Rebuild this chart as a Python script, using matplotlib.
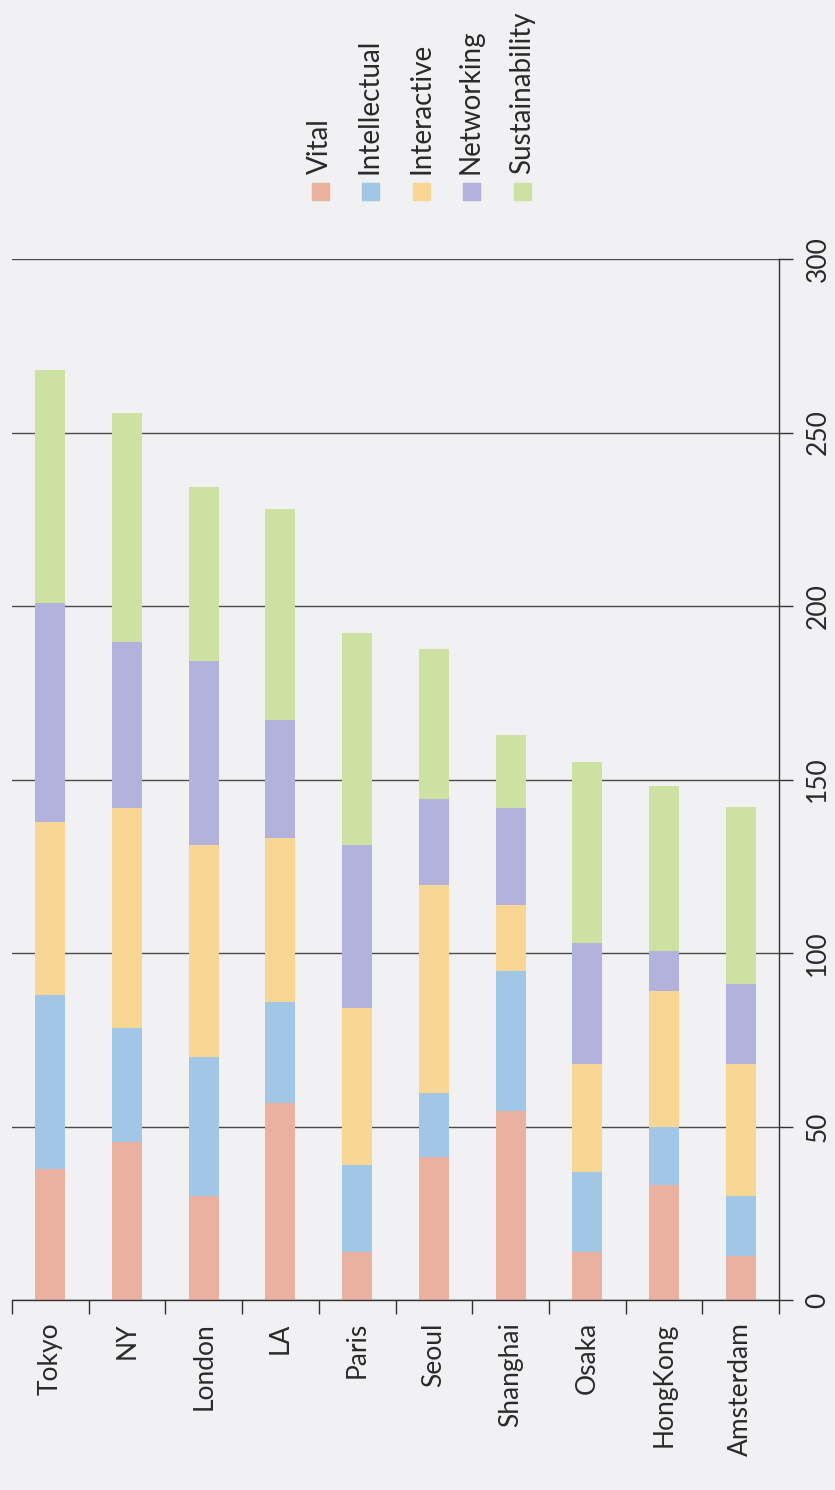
import matplotlib
matplotlib.use("Agg")
import matplotlib.pyplot as plt
from matplotlib.patches import Rectangle
import numpy as np

plt.rcParams['font.family'] = ['Lato', 'DejaVu Sans']

cities = ['Tokyo', 'NY', 'London', 'LA', 'Paris', 'Seoul', 'Shanghai', 'Osaka', 'HongKong', 'Amsterdam']
series = ['Vital', 'Intellectual', 'Interactive', 'Networking', 'Sustainability']
vital          = [37.7, 45.4, 30.1, 56.7, 13.8, 41.3, 54.6, 13.8, 33.1, 12.6]
intellectual   = [50.2, 33.1, 40.0, 29.1, 25.1, 18.4, 40.1, 23.2, 16.8, 17.5]
interactive    = [49.9, 63.2, 61.1, 47.3, 45.2, 59.9, 19.0, 31.1, 39.2, 38.0]
networking     = [63.1, 48.0, 53.0, 34.0, 47.1, 24.9, 28.0, 34.7, 11.6, 23.0]
sustainability = [67.1, 66.0, 50.0, 60.9, 60.9, 43.2, 21.2, 52.2, 47.5, 51.1]
colors = ['#eab0a0', '#a2c6e6', '#f7d793', '#b2b2dc', '#cde2a2']

bg = '#f1f1f3'
txt = '#2a2a2a'
W, H = 835, 1490
fig = plt.figure(figsize=(W / 100, H / 100), dpi=100, facecolor=bg)

# axes box in pixel coords of the page
left, right, bottom, top = 12, 779, 1300, 259
ax = fig.add_axes([left / W, (H - bottom) / H, (right - left) / W, (bottom - top) / H])
ax.set_facecolor(bg)

x = np.arange(len(cities))
base = np.zeros(len(cities))
for vals, c in zip([vital, intellectual, interactive, networking, sustainability], colors):
    ax.bar(x, vals, 0.39, bottom=base, color=c, zorder=3)
    base += np.array(vals)

ax.set_xlim(-0.5, 9.5)
ax.set_ylim(0, 300)
ax.set_yticks(range(0, 301, 50))
ax.yaxis.tick_right()
ax.yaxis.grid(True, color='#4a4a4a', linewidth=1.0, zorder=0)
ax.tick_params(axis='y', direction='out', length=10, width=1.0, color='#333333',
               labelsize=19, labelcolor=txt, pad=9, labelrotation=90)
for lab in ax.get_yticklabels():
    lab.set_va('center')
    lab.set_ha('left')

ax.set_xticks(x)
ax.set_xticklabels(cities, rotation=90, fontsize=19, color=txt)
ax.tick_params(axis='x', which='major', length=0, pad=16)
ax.set_xticks(np.arange(-0.5, 10, 1), minor=True)
ax.tick_params(axis='x', which='minor', direction='out', length=10, width=1.0, color='#333333')

for s in ['left', 'top']:
    ax.spines[s].set_visible(False)
for s in ['right', 'bottom']:
    ax.spines[s].set_color('#333333')
    ax.spines[s].set_linewidth(1.0)
    ax.spines[s].set_zorder(4)

# legend, drawn rotated like the page
leg_x = [320, 370, 421, 471, 522]
for name, c, px in zip(series, colors, leg_x):
    fig.add_artist(Rectangle(((px - 8.5) / W, (H - 200) / H), 17 / W, 17 / H,
                             transform=fig.transFigure, color=c))
    fig.text(px / W, (H - 174) / H, name, rotation=90, rotation_mode='anchor',
             ha='left', va='center', fontsize=20, color=txt)

fig.savefig('out.png', dpi=100, facecolor=bg)
